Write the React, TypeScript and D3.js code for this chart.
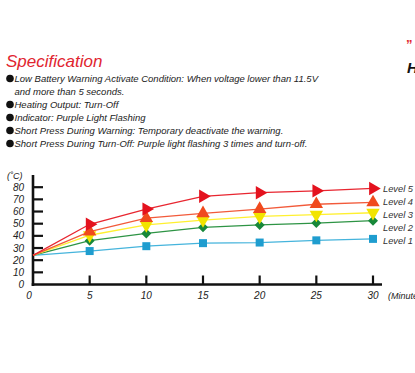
import React, { useRef, useEffect } from 'react';
import * as d3 from 'd3';

const minutes = [0, 5, 10, 15, 20, 25, 30];
const level1 = [24, 27.5, 31.5, 34, 34.5, 36.3, 37.5];
const level2 = [24, 36, 42, 47, 49, 50.5, 52.5];
const level3 = [24, 40.5, 49, 53, 56, 57.5, 59];
const level4 = [24, 43.5, 54.5, 58.5, 62, 66, 67.5];
const level5 = [24, 49.5, 62, 72.5, 75.5, 77, 79];
const yTicks = [0, 10, 20, 30, 40, 50, 60, 70, 80];
const xTicks = [0, 5, 10, 15, 20, 25, 30];
const bullets = [
  'Low Battery Warning Activate Condition: When voltage lower than 11.5V',
  'Heating Output: Turn-Off',
  'Indicator: Purple Light Flashing',
  'Short Press During Warning: Temporary deactivate the warning.',
  'Short Press During Turn-Off: Purple light flashing 3 times and turn-off.',
];
const series = [
  { name: 'Level 1', values: level1, line: '#45b4dc', fill: '#1f9dcf', shape: 'square' },
  { name: 'Level 2', values: level2, line: '#2e9445', fill: '#17883a', shape: 'diamond' },
  { name: 'Level 3', values: level3, line: '#fff030', fill: '#f2e400', shape: 'down' },
  { name: 'Level 4', values: level4, line: '#f25a3a', fill: '#f04a1e', shape: 'up' },
  { name: 'Level 5', values: level5, line: '#e82630', fill: '#e4121e', shape: 'right' },
];

export default function App() {
  const svgRef = useRef<SVGSVGElement>(null);

  useEffect(() => {
    const svg = d3.select(svgRef.current);
    svg.selectAll('*').remove();
    const font = "'Liberation Sans', Arial, sans-serif";

    // header
    svg.append('text').attr('x', 6).attr('y', 67).attr('fill', '#e1252f')
      .attr('font-family', font).attr('font-style', 'italic').attr('font-size', 17)
      .text('Specification');
    svg.append('text').attr('x', 406).attr('y', 49).attr('fill', '#e1252f')
      .attr('font-family', font).attr('font-weight', 'bold').attr('font-size', 13).text('\u201d');
    svg.append('text').attr('x', 407).attr('y', 73).attr('fill', '#111')
      .attr('font-family', font).attr('font-weight', 'bold').attr('font-style', 'italic')
      .attr('font-size', 15).text('H');

    const lineY = [82, 108, 121, 134, 147];
    bullets.forEach((b, i) => {
      svg.append('circle').attr('cx', 10).attr('cy', lineY[i] - 3.5).attr('r', 3.8).attr('fill', '#111');
      svg.append('text').attr('x', 14.5).attr('y', lineY[i]).attr('fill', '#222')
        .attr('font-family', font).attr('font-style', 'italic').attr('font-size', 9.5)
        .text(b);
    });
    svg.append('text').attr('x', 14.5).attr('y', 95).attr('fill', '#222')
      .attr('font-family', font).attr('font-style', 'italic').attr('font-size', 9.5)
      .text('and more than 5 seconds.');

    // chart
    const x = d3.scaleLinear().domain([0, 30]).range([33, 373]);
    const y = d3.scaleLinear().domain([0, 80]).range([284.5, 187.2]);
    const axisCol = '#111';

    const g = svg.append('g');
    g.append('line').attr('x1', x(0)).attr('x2', x(0)).attr('y1', 175).attr('y2', y(0) + 1.5)
      .attr('stroke', axisCol).attr('stroke-width', 2.6);
    g.append('line').attr('x1', x(0) - 1.3).attr('x2', 382).attr('y1', y(0)).attr('y2', y(0))
      .attr('stroke', axisCol).attr('stroke-width', 2.6);

    yTicks.slice(1).forEach(t => {
      g.append('line').attr('x1', x(0)).attr('x2', x(0) + 10).attr('y1', y(t)).attr('y2', y(t))
        .attr('stroke', axisCol).attr('stroke-width', 2.2);
    });
    yTicks.forEach(t => {
      g.append('text').attr('x', 24).attr('y', y(t) + 3.5).attr('text-anchor', 'end')
        .attr('font-family', font).attr('font-style', 'italic').attr('font-size', 10)
        .attr('fill', '#222').text(t);
    });
    xTicks.slice(1).forEach(t => {
      g.append('line').attr('x1', x(t)).attr('x2', x(t)).attr('y1', y(0)).attr('y2', y(0) - 9)
        .attr('stroke', axisCol).attr('stroke-width', 2.2);
    });
    xTicks.forEach(t => {
      g.append('text').attr('x', t === 0 ? x(t) - 4 : x(t)).attr('y', 299).attr('text-anchor', 'middle')
        .attr('font-family', font).attr('font-style', 'italic').attr('font-size', 10)
        .attr('fill', '#222').text(t);
    });
    g.append('text').attr('x', 7).attr('y', 179).attr('font-family', font)
      .attr('font-style', 'italic').attr('font-size', 9).attr('fill', '#222').text('(\u02daC)');
    g.append('text').attr('x', 388).attr('y', 299).attr('font-family', font)
      .attr('font-style', 'italic').attr('font-size', 9).attr('fill', '#222').text('(Minute)');

    const line = d3.line<number>().x((_, i) => x(minutes[i])).y(d => y(d));

    series.forEach(s => {
      g.append('path').datum(s.values).attr('fill', 'none').attr('stroke', s.line)
        .attr('stroke-width', 1.3).attr('d', line);
    });

    series.forEach((s, k) => {
      let type: d3.SymbolType = d3.symbolTriangle;
      let size = 78;
      let rot = 0;
      if (s.shape === 'square') { type = d3.symbolSquare; size = 64; }
      if (s.shape === 'diamond') { type = d3.symbolSquare; size = 50; rot = 45; }
      if (s.shape === 'down') rot = 180;
      if (s.shape === 'right') rot = 90;
      const sym = d3.symbol().type(type).size(size);
      s.values.forEach((v, i) => {
        if (i === 0) return;
        g.append('path').attr('d', sym()!)
          .attr('transform', `translate(${x(minutes[i])},${y(v)}) rotate(${rot})`)
          .attr('fill', s.fill);
      });
      // legend labels stacked at the right end, top = Level 5
      const labelY = y(level5[level5.length - 1]) + (series.length - 1 - k) * 13;
      g.append('text').attr('x', 383).attr('y', labelY + 3.5)
        .attr('font-family', font).attr('font-style', 'italic').attr('font-size', 9.3)
        .attr('fill', '#333').text(s.name);
    });
  }, []);

  return (
    <svg ref={svgRef} width={415} height={373}
      style={{ position: 'absolute', left: 0, top: 0, background: '#fff' }} />
  );
}
